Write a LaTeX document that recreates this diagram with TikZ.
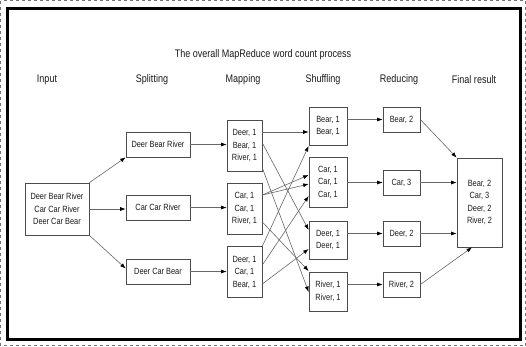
\documentclass[tikz,border=0pt]{standalone}
\usepackage{fontspec}
\setmainfont{Liberation Sans}[FakeStretch=0.82]
\usetikzlibrary{arrows.meta,calc}
\begin{document}
\begin{tikzpicture}[x=1pt,y=-1pt,
  box/.style={draw=black!70,line width=0.7pt,inner sep=0pt,align=center,
    font=\fontsize{9}{12.5}\selectfont,text=black!90},
  lbl/.style={font=\fontsize{11}{13}\selectfont,text=black!90,inner sep=0pt},
  arr/.style={draw=black!60,line width=0.6pt,-{Latex[length=5.5pt,width=4pt,black]}}]
\useasboundingbox (0,0) rectangle (526,346);
\draw[black!55,dashed,line width=0.8pt] (0.5,0.5) rectangle (525.5,345.5);
\draw[line width=2.5pt] (7.5,8.5) rectangle (520.5,339.5);

\node[lbl] (title) at (263,55) {The overall MapReduce word count process};
\node[lbl] (hin) at (47,80) {Input};
\node[lbl] (hsp) at (152,80) {Splitting};
\node[lbl] (hmap) at (243,80) {Mapping};
\node[lbl] (hsh) at (323,80) {Shuffling};
\node[lbl] (hred) at (399,80) {Reducing};
\node[lbl] (hfin) at (474,80) {Final result};

\node[box,minimum width=64pt,minimum height=52pt] (in) at (57,209) {Deer Bear River\\Car Car River\\Deer Car Bear};

\node[box,minimum width=64pt,minimum height=25pt] (s1) at (158,144.5) {Deer Bear River};
\node[box,minimum width=64pt,minimum height=25pt] (s2) at (158,207.5) {Car Car River};
\node[box,minimum width=64pt,minimum height=25pt] (s3) at (158,271.5) {Deer Car Bear};

\node[box,minimum width=35pt,minimum height=51pt] (m1) at (244.5,145.5) {Deer, 1\\Bear, 1\\River, 1};
\node[box,minimum width=35pt,minimum height=51pt] (m2) at (244.5,208.5) {Car, 1\\Car, 1\\River, 1};
\node[box,minimum width=35pt,minimum height=51pt] (m3) at (244.5,272) {Deer, 1\\Car, 1\\Bear, 1};

\node[box,minimum width=38pt,minimum height=38pt] (sh1) at (328,126) {Bear, 1\\Bear, 1};
\node[box,minimum width=38pt,minimum height=50pt] (sh2) at (328,182) {Car, 1\\Car, 1\\Car, 1};
\node[box,minimum width=38pt,minimum height=38pt] (sh3) at (328,240) {Deer, 1\\Deer, 1};
\node[box,minimum width=38pt,minimum height=39pt] (sh4) at (328,291.5) {River, 1\\River, 1};

\node[box,minimum width=37pt,minimum height=25pt] (r1) at (401.5,119.5) {Bear, 2};
\node[box,minimum width=37pt,minimum height=25pt] (r2) at (401.5,182.5) {Car, 3};
\node[box,minimum width=37pt,minimum height=25pt] (r3) at (401.5,233.5) {Deer, 2};
\node[box,minimum width=37pt,minimum height=25pt] (r4) at (401.5,284.5) {River, 2};

\node[box,minimum width=45pt,minimum height=89pt] (fin) at (479.5,202.5) {Bear, 2\\Car, 3\\Deer, 2\\River, 2};

% input -> splitting
\draw[arr] (in.north east) -- (s1.south west);
\draw[arr] (in.east) -- (in.east -| s2.west);
\draw[arr] (in.south east) -- ($(s3.west)+(0,-3)$);

% splitting -> mapping
\draw[arr] (s1.east) -- (s1.east -| m1.west);
\draw[arr] (s2.east) -- (s2.east -| m2.west);
\draw[arr] (s3.east) -- (s3.east -| m3.west);

% mapping -> shuffling
\draw[arr] ($(m1.east)+(0,-13.5)$) -- ($(sh1.west)+(0,6)$);
\draw[arr] ($(m1.east)+(0,-2.5)$) -- ($(sh3.west)+(0,-10)$);
\draw[arr] ($(m1.east)+(0,22.5)$) -- ($(sh4.west)+(0,0.5)$);
\draw[arr] ($(m2.east)+(0,-13.5)$) -- ($(sh2.west)+(0,-7)$);
\draw[arr] ($(m2.east)+(0,-13.5)$) -- ($(sh2.west)+(0,2)$);
\draw[arr] ($(m2.east)+(0,13.5)$) -- ($(sh4.west)+(0,-20.5)$);
\draw[arr] (m3.north east) -- ($(sh1.west)+(0,20)$);
\draw[arr] ($(m3.east)+(0,-7)$) -- ($(sh2.west)+(0,14)$);
\draw[arr] ($(m3.east)+(0,12)$) -- ($(sh3.west)+(0,9)$);

% shuffling -> reducing
\draw[arr] (r1.west -| sh1.east) -- (r1.west);
\draw[arr] (r2.west -| sh2.east) -- (r2.west);
\draw[arr] (r3.west -| sh3.east) -- (r3.west);
\draw[arr] (r4.west -| sh4.east) -- (r4.west);

% reducing -> final
\draw[arr] (r1.east) -- (fin.north west);
\draw[arr] (r2.east) -- (r2.east -| fin.west);
\draw[arr] (r3.east) -- (r3.east -| fin.west);
\draw[arr] (r4.east) -- ($(fin.south)+(-7.5,0)$);
\end{tikzpicture}
\end{document}
